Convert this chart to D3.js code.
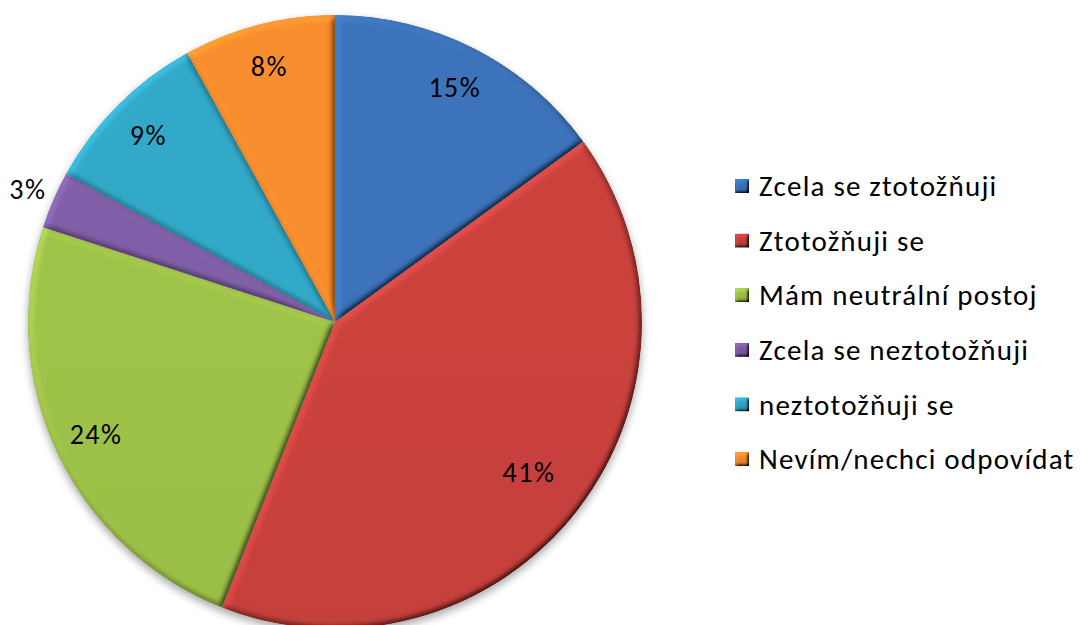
<!DOCTYPE html>
<html>
<head>
<meta charset="utf-8">
<script src="https://cdn.jsdelivr.net/npm/d3@7"></script>
<style>
  html, body { margin: 0; padding: 0; background: #fff; }
  svg { display: block; font-family: Carlito, Calibri, Lato, sans-serif; }
</style>
</head>
<body>
<svg id="chart" width="1085" height="625"></svg>
<script>
// Survey answers and their shares (percent)
const categories = [
  "Zcela se ztotožňuji",
  "Ztotožňuji se",
  "Mám neutrální postoj",
  "Zcela se neztotožňuji",
  "neztotožňuji se",
  "Nevím/nechci odpovídat"
];
const shares = [15, 41, 24, 3, 9, 8];
const colors = ["#3B70B6", "#C5403C", "#9BBE47", "#7D5CA3", "#31A4C2", "#F28A2C"];

const W = 1085, H = 625;
const cx = 335, cy = 322, R = 307;

const svg = d3.select("#chart");
const defs = svg.append("defs");

// Bevel: diffuse lighting from the upper left on the blurred slice outline
function bevelFilter(id, blur, scale) {
  const f = defs.append("filter").attr("id", id)
    .attr("x", "-5%").attr("y", "-5%").attr("width", "110%").attr("height", "110%");
  f.append("feGaussianBlur").attr("in", "SourceAlpha").attr("stdDeviation", blur).attr("result", "blur");
  const light = f.append("feDiffuseLighting").attr("in", "blur")
    .attr("surfaceScale", scale).attr("diffuseConstant", 1)
    .attr("lighting-color", "#ffffff").attr("result", "lit");
  light.append("feDistantLight").attr("azimuth", 225).attr("elevation", 50);
  f.append("feComposite").attr("in", "SourceGraphic").attr("in2", "lit")
    .attr("operator", "arithmetic").attr("k1", 1.305).attr("k2", 0).attr("k3", 0).attr("k4", 0)
    .attr("result", "shaded");
  f.append("feComposite").attr("in", "shaded").attr("in2", "SourceAlpha").attr("operator", "in");
}
bevelFilter("bevel", 3.2, 4);
bevelFilter("bevelSmall", 1.6, 3);

const shadow = defs.append("filter").attr("id", "shadow")
  .attr("x", "-10%").attr("y", "-10%").attr("width", "120%").attr("height", "120%");
shadow.append("feGaussianBlur").attr("stdDeviation", 4);

// Vertical shading for each slice colour
colors.forEach((c, i) => {
  const g = defs.append("linearGradient").attr("id", "grad" + i)
    .attr("gradientUnits", "userSpaceOnUse")
    .attr("x1", 0).attr("y1", cy - R).attr("x2", 0).attr("y2", cy + R);
  g.append("stop").attr("offset", "0").attr("stop-color", d3.color(c).brighter(0.08));
  g.append("stop").attr("offset", "0.45").attr("stop-color", c);
  g.append("stop").attr("offset", "1").attr("stop-color", d3.color(c).darker(0.55));
  const lg = defs.append("linearGradient").attr("id", "lgrad" + i)
    .attr("x1", 0).attr("y1", 0).attr("x2", 0).attr("y2", 1);
  lg.append("stop").attr("offset", "0").attr("stop-color", d3.color(c).brighter(0.2));
  lg.append("stop").attr("offset", "1").attr("stop-color", d3.color(c).darker(0.35));
});

const data = categories.map((name, i) => ({ name, value: shares[i], i }));
const pie = d3.pie().value(d => d.value).sort(null);
const arcs = pie(data);
const arc = d3.arc().innerRadius(0).outerRadius(R);

const g = svg.append("g").attr("transform", `translate(${cx},${cy})`);

// soft shadow under the pie
g.append("circle").attr("cx", 0).attr("cy", 4).attr("r", R)
  .attr("fill", "#000").attr("opacity", 0.35).attr("filter", "url(#shadow)");

g.selectAll("path.slice").data(arcs).join("path")
  .attr("class", "slice")
  .attr("d", arc)
  .attr("fill", d => `url(#grad${d.data.i})`)
  .attr("filter", "url(#bevel)");

// Percentage labels: inside for wider slices (big ones sit a bit deeper), outside for narrow ones
const inner = d3.arc().innerRadius(R * 0.86).outerRadius(R * 0.86);
const deep = d3.arc().innerRadius(R * 0.8).outerRadius(R * 0.8);
const outer = d3.arc().innerRadius(R * 1.09).outerRadius(R * 1.09);
function labelArc(d) {
  if (d.data.value < 5) return outer;
  if (d.data.value > 30) return deep;
  return inner;
}
g.selectAll("text.val").data(arcs).join("text")
  .attr("class", "val")
  .attr("transform", d => `translate(${labelArc(d).centroid(d)})`)
  .attr("text-anchor", "middle")
  .attr("dy", "0.35em")
  .attr("font-size", 28)
  .attr("letter-spacing", 1.5)
  .attr("fill", "#000")
  .text(d => d.data.value + "%");

// Legend
const legendY = d3.scalePoint().domain(categories).range([186, 459]);
const lg = svg.append("g");
const rows = lg.selectAll("g").data(data).join("g")
  .attr("transform", d => `translate(735,${legendY(d.name)})`);
rows.append("rect")
  .attr("x", 0).attr("y", -7).attr("width", 14).attr("height", 14)
  .attr("fill", d => `url(#lgrad${d.i})`)
  .attr("filter", "url(#bevelSmall)");
rows.append("text")
  .attr("x", 24).attr("dy", "0.35em")
  .attr("font-size", 29)
  .attr("letter-spacing", 1.2)
  .attr("fill", "#000")
  .text(d => d.name);
</script>
</body>
</html>
